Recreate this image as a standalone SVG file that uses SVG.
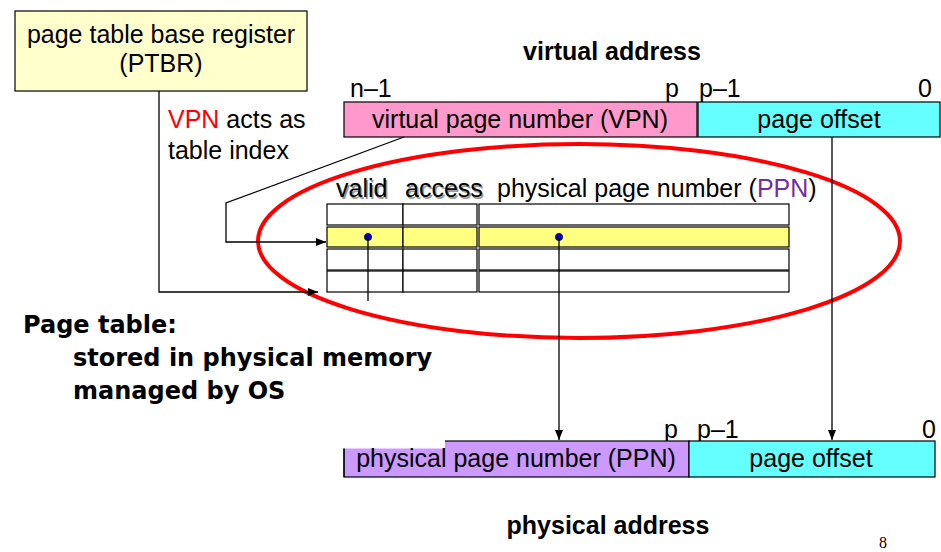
<svg xmlns="http://www.w3.org/2000/svg" width="941" height="552" viewBox="0 0 941 552">
  <defs>
    <marker id="arrow" viewBox="0 0 10 8" refX="10" refY="4" markerWidth="10" markerHeight="8" markerUnits="userSpaceOnUse" orient="auto">
      <path d="M0,0 L10,4 L0,8 z" fill="#000"/>
    </marker>
  </defs>
  <style>
    .t { font-family: "Liberation Sans", Arial, sans-serif; font-size: 25px; fill: #000; }
    .b { font-weight: bold; }
    .box { stroke: #000; stroke-width: 1.2; }
    .cell { fill: #fff; stroke: #000; stroke-width: 1.2; }
    .hl { fill: #FFFF80; }
    .wire { fill: none; stroke: #000; stroke-width: 1.3; }
    .dot { fill: #0000CC; stroke: #000033; stroke-width: 0.8; }
    .note { font-family: "DejaVu Sans", Verdana, sans-serif; font-size: 24px; font-weight: bold; fill: #000; }
    .shadow { fill: #9a9a9a; }
  </style>

  <rect width="941" height="552" fill="#fff"/>

  <!-- page table base register -->
  <g id="ptbr">
    <rect class="box" x="15" y="11" width="292" height="80" fill="#FFFFCC"/>
    <text class="t" x="161" y="43" text-anchor="middle">page table base register</text>
    <text class="t" x="161" y="72" text-anchor="middle">(PTBR)</text>
  </g>

  <!-- virtual address -->
  <g id="virtual-address">
    <text class="t b" x="612" y="60" text-anchor="middle">virtual address</text>
    <text class="t" x="350" y="97">n–1</text>
    <text class="t" x="665" y="97">p</text>
    <text class="t" x="699" y="97">p–1</text>
    <text class="t" x="918" y="97">0</text>
    <rect class="box" x="344" y="102" width="353" height="35" fill="#FF99CC"/>
    <text class="t" x="520" y="128" text-anchor="middle">virtual page number (VPN)</text>
    <rect class="box" x="698" y="102" width="242" height="35" fill="#66FFFF"/>
    <text class="t" x="819" y="128" text-anchor="middle">page offset</text>
  </g>

  <!-- index label -->
  <g id="vpn-label">
    <text class="t" x="168" y="128"><tspan fill="#FF0000">VPN</tspan> acts as</text>
    <text class="t" x="168" y="159">table index</text>
  </g>

  <!-- page table -->
  <g id="page-table">
    <text class="t shadow" x="337.5" y="198.5">valid</text>
    <text class="t" x="336" y="197">valid</text>
    <text class="t shadow" x="406.5" y="198.5">access</text>
    <text class="t" x="405" y="197">access</text>
    <text class="t" x="497" y="197">physical page number (<tspan fill="#7030A0">PPN</tspan>)</text>

    <rect class="cell" x="327" y="204" width="76" height="21"/>
    <rect class="cell" x="403" y="204" width="74" height="21"/>
    <rect class="cell" x="479" y="204" width="310" height="21"/>

    <rect class="cell hl" x="327" y="227" width="76" height="20"/>
    <rect class="cell hl" x="403" y="227" width="74" height="20"/>
    <rect class="cell hl" x="479" y="227" width="310" height="20"/>

    <rect class="cell" x="327" y="249" width="76" height="21"/>
    <rect class="cell" x="403" y="249" width="74" height="21"/>
    <rect class="cell" x="479" y="249" width="310" height="21"/>

    <rect class="cell" x="327" y="271" width="76" height="21"/>
    <rect class="cell" x="403" y="271" width="74" height="21"/>
    <rect class="cell" x="479" y="271" width="310" height="21"/>

    <circle class="dot" cx="368" cy="237" r="3.6"/>
    <circle class="dot" cx="559" cy="237" r="3.6"/>

    <ellipse cx="579" cy="241" rx="321" ry="97" fill="none" stroke="#FF0000" stroke-width="4"/>
  </g>

  <!-- connectors -->
  <g id="connectors">
    <polyline class="wire" points="404,137 226,203 226,242 326,242" marker-end="url(#arrow)"/>
    <polyline class="wire" points="159,91 159,292 318,292" marker-end="url(#arrow)"/>
    <line class="wire" x1="368" y1="237" x2="368" y2="301"/>
    <line class="wire" x1="559" y1="237" x2="559" y2="440" marker-end="url(#arrow)"/>
    <line class="wire" x1="832" y1="137" x2="832" y2="440" marker-end="url(#arrow)"/>
  </g>

  <!-- note -->
  <g id="note">
    <text class="note" x="23" y="333">Page table:</text>
    <text class="note" x="73" y="366">stored in physical memory</text>
    <text class="note" x="73" y="399">managed by OS</text>
  </g>

  <!-- physical address -->
  <g id="physical-address">
    <text class="t" x="664" y="438">p</text>
    <text class="t" x="697" y="438">p–1</text>
    <text class="t" x="922" y="438">0</text>
    <rect class="box" x="344" y="441" width="345" height="36" fill="#CC99FF"/>
    <rect x="342" y="438" width="103" height="10.5" fill="#fff"/>
    <line x1="344" y1="448.5" x2="344" y2="477" stroke="#000" stroke-width="1.2"/>
    <text class="t" x="516" y="467" text-anchor="middle">physical page number (PPN)</text>
    <rect class="box" x="689" y="441" width="246" height="36" fill="#66FFFF"/>
    <text class="t" x="811" y="467" text-anchor="middle">page offset</text>
    <text class="t b" x="608" y="534" text-anchor="middle">physical address</text>
  </g>

  <text x="883" y="548" text-anchor="middle" font-family="Liberation Serif, serif" font-size="16">8</text>
</svg>
